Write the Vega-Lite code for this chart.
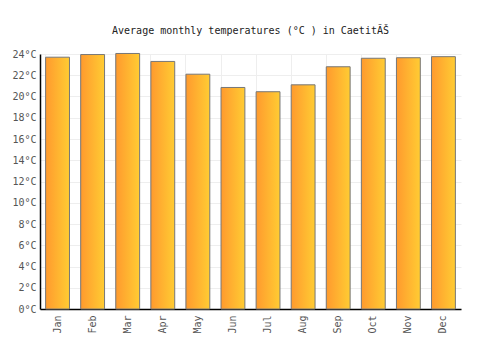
{
  "$schema": "https://vega.github.io/schema/vega-lite/v6.json",
  "width": 421,
  "height": 255,
  "autosize": "none",
  "padding": {"left": 40, "top": 54, "right": 39, "bottom": 41},
  "background": "white",
  "title": {
    "text": "Average monthly temperatures (°C ) in CaetitĂŠ",
    "font": "DejaVu Sans Mono",
    "fontSize": 10,
    "fontWeight": "normal",
    "color": "#222",
    "offset": 13,
    "anchor": "middle"
  },
  "config": {"view": {"stroke": null}},
  "data": {
    "values": [
      {"month": "Jan", "temp": 23.7},
      {"month": "Feb", "temp": 23.95},
      {"month": "Mar", "temp": 24.05},
      {"month": "Apr", "temp": 23.3},
      {"month": "May", "temp": 22.1},
      {"month": "Jun", "temp": 20.85},
      {"month": "Jul", "temp": 20.45},
      {"month": "Aug", "temp": 21.1},
      {"month": "Sep", "temp": 22.8},
      {"month": "Oct", "temp": 23.6},
      {"month": "Nov", "temp": 23.65},
      {"month": "Dec", "temp": 23.75}
    ]
  },
  "mark": {
    "type": "bar",
    "stroke": "#777",
    "strokeWidth": 1,
    "clip": false,
    "color": {
      "gradient": "linear",
      "x1": 0, "x2": 1, "y1": 0, "y2": 0,
      "stops": [
        {"offset": 0, "color": "#ff9a2e"},
        {"offset": 1, "color": "#ffcc33"}
      ]
    }
  },
  "encoding": {
    "x": {
      "field": "month",
      "type": "nominal",
      "sort": null,
      "scale": {"paddingInner": 0.32, "paddingOuter": 0.16},
      "axis": {
        "title": null,
        "labelAngle": -90,
        "labelFont": "DejaVu Sans Mono",
        "labelFontSize": 10,
        "labelColor": "#555",
        "labelPadding": 6,
        "ticks": false,
        "domainColor": "#000",
        "domainWidth": 1.5,
        "grid": true,
        "gridColor": "#eeeeee",
        "bandPosition": 0
      }
    },
    "y": {
      "field": "temp",
      "type": "quantitative",
      "scale": {"domain": [0, 24], "nice": false},
      "axis": {
        "title": null,
        "values": [0, 2, 4, 6, 8, 10, 12, 14, 16, 18, 20, 22, 24],
        "labelExpr": "datum.value + '°C'",
        "labelFont": "DejaVu Sans Mono",
        "labelFontSize": 10,
        "labelColor": "#555",
        "labelPadding": 4,
        "ticks": false,
        "domainColor": "#000",
        "domainWidth": 1.5,
        "gridColor": "#eeeeee"
      }
    }
  }
}
